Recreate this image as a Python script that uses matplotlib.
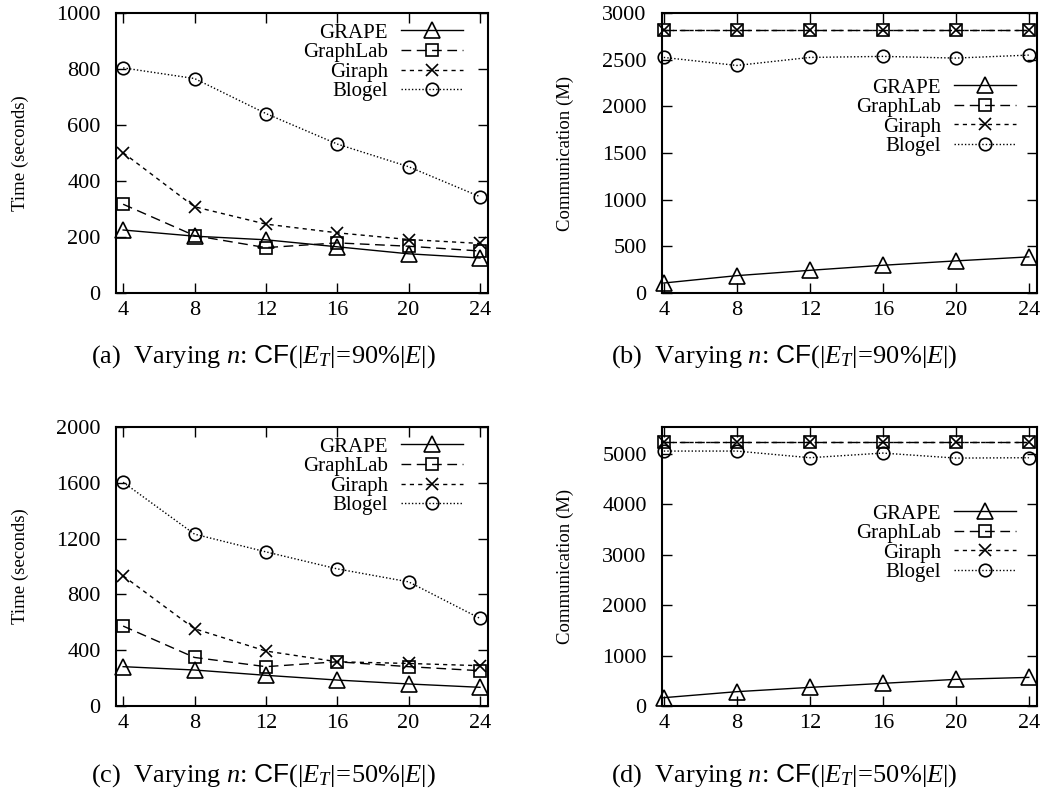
# recreate the 4-panel GRAPE / GraphLab / Giraph / Blogel comparison
import matplotlib
matplotlib.use("Agg")
import matplotlib.pyplot as plt

plt.rcParams["font.family"] = ["Liberation Serif", "DejaVu Serif"]
plt.rcParams["mathtext.fontset"] = "custom"
plt.rcParams["mathtext.rm"] = "Liberation Serif"
plt.rcParams["mathtext.it"] = "Liberation Serif:italic"
plt.rcParams["mathtext.sf"] = "Liberation Sans"

n = [4, 8, 12, 16, 20, 24]
systems = ["GRAPE", "GraphLab", "Giraph", "Blogel"]

# (a) time, 90%
time_90 = {
    "GRAPE": [225, 203, 190, 165, 140, 125],
    "GraphLab": [317, 205, 162, 179, 167, 150],
    "Giraph": [501, 308, 246, 215, 191, 177],
    "Blogel": [804, 766, 641, 532, 451, 344],
}
# (b) communication, 90%
comm_90 = {
    "GRAPE": [107, 186, 243, 297, 344, 387],
    "GraphLab": [2814, 2814, 2814, 2814, 2814, 2814],
    "Giraph": [2814, 2814, 2814, 2814, 2814, 2814],
    "Blogel": [2524, 2438, 2524, 2535, 2517, 2549],
}
# (c) time, 50%
time_50 = {
    "GRAPE": [282, 258, 220, 186, 158, 134],
    "GraphLab": [573, 348, 282, 317, 282, 253],
    "Giraph": [933, 554, 394, 317, 305, 289],
    "Blogel": [1604, 1232, 1105, 983, 890, 628],
}
# (d) communication, 50%
comm_50 = {
    "GRAPE": [165, 284, 369, 449, 528, 567],
    "GraphLab": [5224, 5224, 5224, 5224, 5224, 5224],
    "Giraph": [5224, 5224, 5224, 5224, 5224, 5224],
    "Blogel": [5053, 5053, 4921, 5013, 4914, 4921],
}

styles = {
    "GRAPE": dict(marker="^", linestyle="-", ms=11),
    "GraphLab": dict(marker="s", linestyle=(0, (7, 4)), ms=9),
    "Giraph": dict(marker="x", linestyle=(0, (3, 3)), ms=9),
    "Blogel": dict(marker="o", linestyle=(0, (1, 1.5)), ms=9),
}

W, H = 1051, 807
fig = plt.figure(figsize=(W / 100, H / 100), dpi=100)


def make_panel(rect, data, ylim, yticks, ylabel, xlim, leg_anchor, caption, cap_xy):
    l, t, r, b = rect
    ax = fig.add_axes([l / W, 1 - b / H, (r - l) / W, (b - t) / H])
    for s in systems:
        st = styles[s]
        ax.plot(n, data[s], color="black", linewidth=1.0, linestyle=st["linestyle"],
                marker=st["marker"], markersize=st["ms"],
                markerfacecolor="none", markeredgecolor="black", markeredgewidth=1.2,
                label=s, clip_on=False)
    ax.set_xlim(*xlim)
    ax.set_ylim(*ylim)
    ax.set_xticks(n)
    ax.set_yticks(yticks)
    ax.tick_params(direction="in", top=True, right=True, length=7, width=1,
                   labelsize=16)
    ax.tick_params(axis="y", pad=11)
    ax.tick_params(axis="x", pad=6)
    for sp in ax.spines.values():
        sp.set_linewidth(1.5)
    ax.set_ylabel(ylabel, fontsize=13.5)
    ax.yaxis.set_label_coords(-0.235, 0.5)
    ax.legend(loc="upper right", bbox_to_anchor=leg_anchor, frameon=False,
              markerfirst=False, fontsize=15, handlelength=3.0, handletextpad=0.6,
              labelspacing=0.0, borderpad=0, borderaxespad=0)
    fig.text(cap_xy[0] / W, 1 - cap_xy[1] / H, caption, ha="center", va="center",
             fontsize=19)
    return ax


make_panel((116, 13, 488, 293), time_90, (0, 1000), [0, 200, 400, 600, 800, 1000],
           "Time (seconds)", (3.6, 24.45), (0.933, 0.964),
           r"(a)  Varying $n$: $\mathsf{CF}(|E_T|\!=\!90\%|E|)$", (263, 357))
make_panel((662, 13, 1037, 293), comm_90, (0, 3000), [0, 500, 1000, 1500, 2000, 2500, 3000],
           "Communication (M)", (3.9, 24.45), (0.944, 0.768),
           r"(b)  Varying $n$: $\mathsf{CF}(|E_T|\!=\!90\%|E|)$", (784, 357))
make_panel((116, 427, 488, 706), time_50, (0, 2000), [0, 400, 800, 1200, 1600, 2000],
           "Time (seconds)", (3.6, 24.45), (0.933, 0.964),
           r"(c)  Varying $n$: $\mathsf{CF}(|E_T|\!=\!50\%|E|)$", (263, 776))
make_panel((662, 427, 1037, 706), comm_50, (0, 5530), [0, 1000, 2000, 3000, 4000, 5000],
           "Communication (M)", (3.9, 24.45), (0.944, 0.724),
           r"(d)  Varying $n$: $\mathsf{CF}(|E_T|\!=\!50\%|E|)$", (784, 776))

fig.savefig("out.png", dpi=100)
